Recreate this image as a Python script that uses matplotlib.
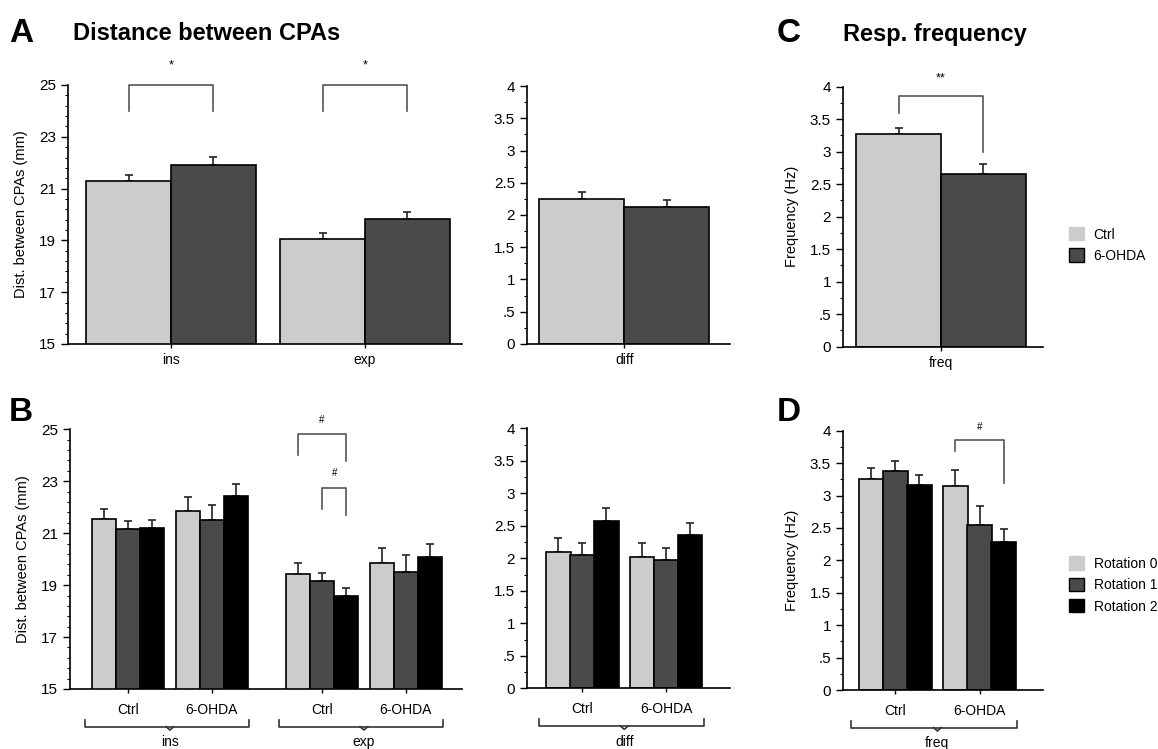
import matplotlib.pyplot as plt
from matplotlib.patches import Patch
from matplotlib.ticker import MultipleLocator, FixedLocator
import matplotlib.transforms as mtransforms
import numpy as np

plt.rcParams['font.family'] = ['Liberation Sans', 'DejaVu Sans']

# --- data: Ctrl vs 6-OHDA (panels A, C)
dist_groups = ['ins', 'exp']
dist_ctrl = [21.3, 19.05]
dist_ctrl_err = [0.22, 0.23]
dist_ohda = [21.9, 19.82]
dist_ohda_err = [0.32, 0.27]

diff_ctrl, diff_ctrl_err = [2.25], [0.11]
diff_ohda, diff_ohda_err = [2.12], [0.12]

freq_ctrl, freq_ctrl_err = [3.27], [0.09]
freq_ohda, freq_ohda_err = [2.65], [0.16]

# --- data: per rotation (panels B, D); columns = ins-Ctrl, ins-6OHDA, exp-Ctrl, exp-6OHDA
treat_labels = ['Ctrl', '6-OHDA']
rot_labels = ['Rotation 0', 'Rotation 1', 'Rotation 2']
rot_dist = [[21.55, 21.87, 19.42, 19.84],
            [21.16, 21.51, 19.16, 19.52],
            [21.19, 22.44, 18.58, 20.09]]
rot_dist_err = [[0.38, 0.51, 0.42, 0.58],
                [0.32, 0.56, 0.32, 0.64],
                [0.30, 0.45, 0.32, 0.48]]
rot_diff = [[2.10, 2.02], [2.05, 1.97], [2.58, 2.36]]
rot_diff_err = [[0.22, 0.21], [0.18, 0.19], [0.19, 0.19]]
rot_freq = [[3.26, 3.15], [3.38, 2.54], [3.17, 2.28]]
rot_freq_err = [[0.16, 0.24], [0.15, 0.30], [0.15, 0.20]]

colors = ['#cccccc', '#4a4a4a', '#000000']

W, H = 1158, 749
fig = plt.figure(figsize=(W / 100, H / 100), dpi=100)


def add_ax(x0, y0, x1, y1):
    # pixel box -> figure fraction
    return fig.add_axes([x0 / W, 1 - y1 / H, (x1 - x0) / W, (y1 - y0) / H])


def style_ax(ax, ylim, major, minor, fmt=None):
    for s in ['top', 'right']:
        ax.spines[s].set_visible(False)
    ax.spines['left'].set_bounds(ylim[0], ylim[1])
    ax.set_ylim(ylim)
    ax.yaxis.set_major_locator(FixedLocator(np.arange(ylim[0], ylim[1] + 1e-6, major)))
    ax.yaxis.set_minor_locator(FixedLocator(np.arange(ylim[0], ylim[1] + 1e-6, minor)))
    if fmt:
        ax.yaxis.set_major_formatter(fmt)
    else:
        ax.yaxis.set_major_formatter(lambda v, p: f'{v:.0f}')
    ax.tick_params(axis='y', which='major', length=5, width=1, labelsize=11)
    ax.tick_params(axis='y', which='minor', length=2.5, width=0.8)
    ax.tick_params(axis='x', length=3, width=1, labelsize=10)
    for s in ['left', 'bottom']:
        ax.spines[s].set_linewidth(1.2)


def half_fmt(v, pos):
    if abs(v) < 1e-9:
        return '0'
    s = f'{v:g}'
    return s[1:] if s.startswith('0.') else s


def bars(ax, x, h, err, color, w):
    ax.bar(x, h, width=w, color=color, edgecolor='black', linewidth=1.2, zorder=2)
    ax.errorbar(x, h, yerr=[np.zeros(len(h)), err], fmt='none', ecolor='#222222',
                elinewidth=1.2, capsize=3, capthick=1.2, zorder=1)


def bracket(ax, x0, x1, ytop, yl, yr, label, ylab, fs=9):
    ax.plot([x0, x0, x1, x1], [yl, ytop, ytop, yr], color='#555555', lw=1.2,
            clip_on=False, zorder=3)
    ax.text((x0 + x1) / 2, ylab, label, ha='center', va='center', fontsize=fs,
            clip_on=False)


def brace(ax, xc, lab, ytop=-0.118, yline=-0.145, ytip=-0.158, ylab=-0.205):
    tr = mtransforms.blended_transform_factory(ax.transData, ax.transAxes)
    a, b = xc - 0.44, xc + 0.41
    ax.plot([a, a, b, b], [ytop, yline, yline, ytop], color='#333333', lw=1.2,
            transform=tr, clip_on=False)
    ax.plot([xc - 0.02, xc, xc + 0.02], [yline, ytip, yline], color='#333333', lw=1.2,
            transform=tr, clip_on=False)
    ax.text(xc, ylab, lab, transform=tr, ha='center', va='center', fontsize=10)


BW = 0.438   # wide bar width (A, C)
NW = 0.126   # narrow bar width (B, D)
SUB = 0.216  # offset of Ctrl / 6-OHDA subgroup
YLAB_FS = 10.5

# ---------------- A left
ax = add_ax(68, 85, 462, 344)
xg = np.arange(len(dist_groups))
bars(ax, xg - BW / 2, dist_ctrl, dist_ctrl_err, colors[0], BW)
bars(ax, xg + BW / 2, dist_ohda, dist_ohda_err, colors[1], BW)
ax.set_xlim(-0.531, 1.5)
style_ax(ax, (15, 25), 2, 0.4)
ax.set_xticks(xg)
ax.set_xticklabels(dist_groups)
ax.set_ylabel('Dist. between CPAs (mm)', fontsize=YLAB_FS, labelpad=8)
for g in xg:
    bracket(ax, g - BW / 2, g + BW / 2, 25, 24.0, 24.0, '*', 25.75, fs=9)

# ---------------- A right (diff)
ax = add_ax(526.7, 86, 730, 344)
bars(ax, [-BW / 2], diff_ctrl, diff_ctrl_err, colors[0], BW)
bars(ax, [BW / 2], diff_ohda, diff_ohda_err, colors[1], BW)
ax.set_xlim(-0.503, 0.545)
style_ax(ax, (0, 4), 0.5, 0.25, half_fmt)
ax.set_xticks([0])
ax.set_xticklabels(['diff'])

# ---------------- C
ax = add_ax(842.7, 86.7, 1043, 346.7)
bars(ax, [-BW / 2], freq_ctrl, freq_ctrl_err, colors[0], BW)
bars(ax, [BW / 2], freq_ohda, freq_ohda_err, colors[1], BW)
ax.set_xlim(-0.507, 0.526)
style_ax(ax, (0, 4), 0.5, 0.25, half_fmt)
ax.set_xticks([0])
ax.set_xticklabels(['freq'])
ax.set_ylabel('Frequency (Hz)', fontsize=YLAB_FS, labelpad=8)
bracket(ax, -BW / 2, BW / 2, 3.86, 3.59, 3.0, '**', 4.12, fs=9)

# ---------------- B left
ax = add_ax(70, 429.3, 461.7, 689)
centers = np.array([0 - SUB, 0 + SUB, 1 - SUB, 1 + SUB])
for r in range(3):
    bars(ax, centers + (r - 1) * NW * 0.98, rot_dist[r], rot_dist_err[r], colors[r], NW)
ax.set_xlim(-0.515, 1.504)
style_ax(ax, (15, 25), 2, 0.4)
ax.set_xticks(centers)
ax.set_xticklabels([])
ax.set_ylabel('Dist. between CPAs (mm)', fontsize=YLAB_FS, labelpad=8)
tr = mtransforms.blended_transform_factory(ax.transData, ax.transAxes)
for c, lab in zip(centers, treat_labels * 2):
    ax.text(c, -0.081, lab, transform=tr, ha='center', va='center', fontsize=10)
for g, lab in zip([0, 1], dist_groups):
    brace(ax, g, lab)
xc = 1 - SUB
bracket(ax, xc - NW, xc + NW, 24.81, 24.01, 23.78, '#', 25.35, fs=7)
bracket(ax, xc, xc + NW, 22.75, 21.95, 21.70, '#', 23.3, fs=7)

# ---------------- B right (diff)
ax = add_ax(526.7, 428.3, 730, 688.3)
centers = np.array([-SUB, SUB])
for r in range(3):
    bars(ax, centers + (r - 1) * NW * 0.98, rot_diff[r], rot_diff_err[r], colors[r], NW)
ax.set_xlim(-0.503, 0.545)
style_ax(ax, (0, 4), 0.5, 0.25, half_fmt)
ax.set_xticks(centers)
ax.set_xticklabels([])
tr = mtransforms.blended_transform_factory(ax.transData, ax.transAxes)
for c, lab in zip(centers, treat_labels):
    ax.text(c, -0.081, lab, transform=tr, ha='center', va='center', fontsize=10)
brace(ax, 0, 'diff')

# ---------------- D
ax = add_ax(842.7, 430.7, 1043, 690)
for r in range(3):
    bars(ax, centers + (r - 1) * NW * 0.98, rot_freq[r], rot_freq_err[r], colors[r], NW)
ax.set_xlim(-0.485, 0.541)
style_ax(ax, (0, 4), 0.5, 0.25, half_fmt)
ax.set_xticks(centers)
ax.set_xticklabels([])
ax.set_ylabel('Frequency (Hz)', fontsize=YLAB_FS, labelpad=8)
tr = mtransforms.blended_transform_factory(ax.transData, ax.transAxes)
for c, lab in zip(centers, treat_labels):
    ax.text(c, -0.081, lab, transform=tr, ha='center', va='center', fontsize=10)
brace(ax, 0, 'freq')
xc = SUB
bracket(ax, xc - NW, xc + NW, 3.86, 3.68, 3.19, '#', 4.05, fs=7)

# ---------------- legends
fig.legend(handles=[Patch(facecolor=colors[0], edgecolor=colors[0]),
                    Patch(facecolor=colors[1], edgecolor='black')],
           labels=treat_labels, loc='center left', bbox_to_anchor=(1056 / W, 1 - 245 / H),
           frameon=False, fontsize=10, handlelength=1.1, handleheight=1.1,
           handletextpad=0.7, labelspacing=0.5)
fig.legend(handles=[Patch(facecolor=colors[0], edgecolor=colors[0]),
                    Patch(facecolor=colors[1], edgecolor='black'),
                    Patch(facecolor=colors[2], edgecolor='black')],
           labels=rot_labels, loc='center left', bbox_to_anchor=(1056 / W, 1 - 585 / H),
           frameon=False, fontsize=10, handlelength=1.1, handleheight=1.1,
           handletextpad=0.7, labelspacing=0.5)

# ---------------- panel letters and titles
for letter, x, y in [('A', 9, 33), ('B', 9, 413), ('C', 777, 33), ('D', 777, 413)]:
    fig.text(x / W, 1 - y / H, letter, fontsize=24, fontweight='bold', va='center')
fig.text(73 / W, 1 - 34 / H, 'Distance between CPAs', fontsize=17, fontweight='bold', va='center')
fig.text(843 / W, 1 - 34 / H, 'Resp. frequency', fontsize=17, fontweight='bold', va='center')

fig.savefig('out.png', dpi=100)
